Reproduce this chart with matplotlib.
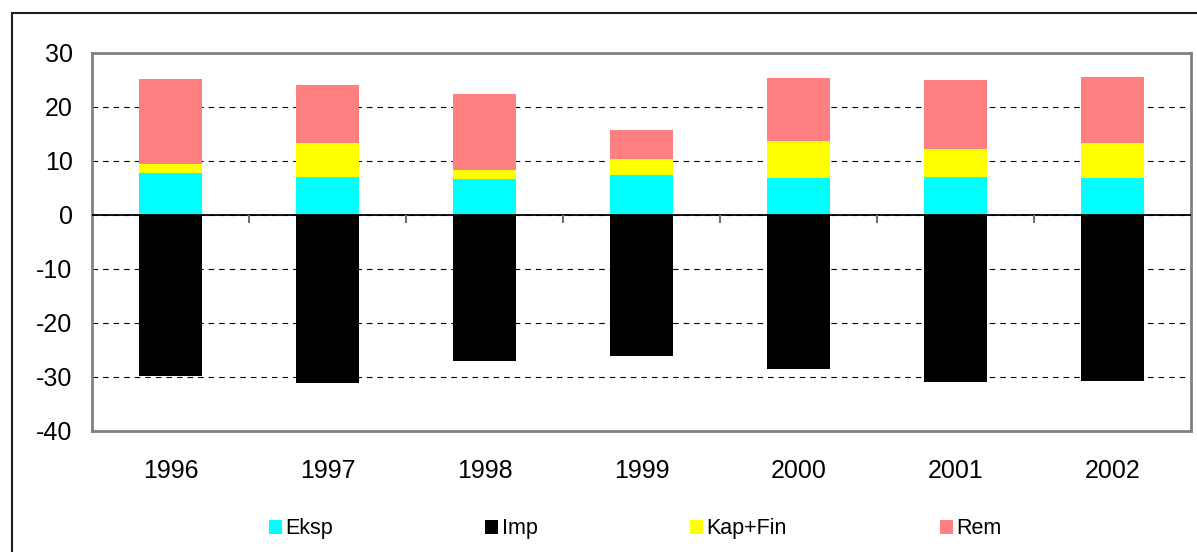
import matplotlib
matplotlib.use("Agg")
import matplotlib.pyplot as plt
import numpy as np
from matplotlib.patches import Rectangle

years = ["1996", "1997", "1998", "1999", "2000", "2001", "2002"]
eksp = [7.8, 7.0, 6.7, 7.45, 6.8, 6.95, 6.8]
kapfin = [1.7, 6.4, 1.7, 2.95, 6.9, 5.35, 6.6]
rem = [15.6, 10.6, 13.95, 5.4, 11.65, 12.65, 12.1]
imp = [-29.9, -31.2, -27.0, -26.2, -28.6, -31.0, -30.7]

plt.rcParams['font.family'] = ['Liberation Sans', 'DejaVu Sans']
plt.rcParams['axes.unicode_minus'] = False

fig = plt.figure(figsize=(11.97, 5.52), dpi=100)
ax = fig.add_axes([92/1197, 1 - 431/552, (1191-92)/1197, (431-53)/552])

x = np.arange(len(years)) + 0.5
w = 0.405
eksp_a = np.array(eksp)
kap_a = np.array(kapfin)
rem_a = np.array(rem)

ax.bar(x, eksp_a, w, color='#00FFFF', label='Eksp', zorder=3)
ax.bar(x, imp, w, color='#000000', label='Imp', zorder=3)
ax.bar(x, kap_a, w, bottom=eksp_a, color='#FFFF00', label='Kap+Fin', zorder=3)
ax.bar(x, rem_a, w, bottom=eksp_a + kap_a, color='#FF8080', label='Rem', zorder=3)

ax.set_xlim(0, len(years))
ax.set_ylim(-40, 30)
ax.set_yticks(np.arange(-40, 31, 10))
ax.set_xticks(x)
ax.set_xticklabels(years)
ax.tick_params(axis='y', length=0, pad=14, labelsize=18)
ax.tick_params(axis='x', length=0, pad=20, labelsize=18)

ax.yaxis.grid(True, color='black', linestyle=(0, (5, 4.5)), linewidth=0.8, zorder=1)
ax.axhline(0, color='black', linewidth=1.3, zorder=4)
# category separator ticks on zero line
bounds = np.arange(1, len(years))
ax.vlines(bounds, -1.5, 0, color='#707070', linewidth=1.5, zorder=4)

for s in ax.spines.values():
    s.set_color('#808080')
    s.set_linewidth(2)

leg = ax.legend(loc='upper center', bbox_to_anchor=(0.494, -0.18), ncol=4,
                frameon=False, fontsize=15.5, handlelength=0.6, handleheight=0.6,
                handletextpad=0.15, columnspacing=7.1)

fig.patches.append(Rectangle((12/1197, -0.1), 1.2, (552-13)/552 + 0.1,
                             transform=fig.transFigure, fill=False,
                             edgecolor='#202020', linewidth=1.5))

fig.savefig('out.png', dpi=100)
